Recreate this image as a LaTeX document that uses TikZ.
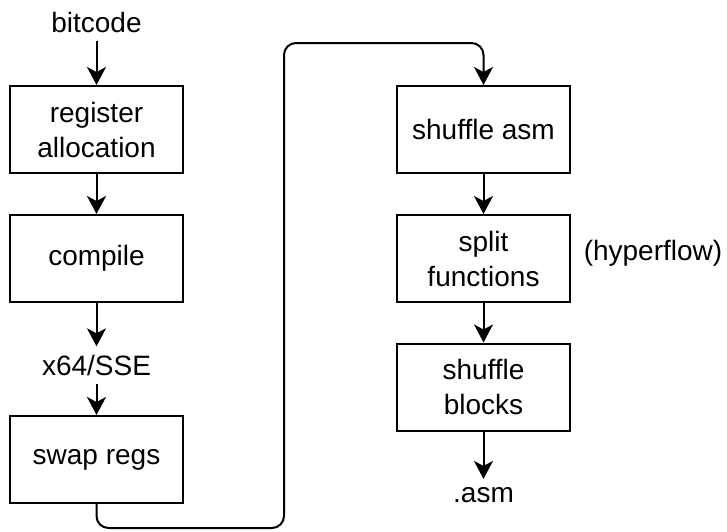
\documentclass[tikz,border=0pt]{standalone}
\usepackage{fontspec}
\setmainfont{Liberation Sans}
\usepackage{tikz}
\usetikzlibrary{arrows.meta}

\begin{document}
\begin{tikzpicture}[
    x=1pt, y=1pt,
    every node/.style={font=\fontsize{14}{17.5}\selectfont},
    stage/.style={rectangle, draw, line width=1pt, minimum width=86.5pt, minimum height=43.5pt, align=center},
    plain/.style={inner sep=4pt},
    flow/.style={-{Stealth[length=9pt, width=9.5pt, inset=2.5pt]}, line width=1pt}
]
\useasboundingbox (0,0) rectangle (363.5,-265.5);

% Left column
\node[plain] (bitcode) at (48.25,-11) {bitcode};
\node[stage] (regalloc) at (48.25,-64.75) {register\\allocation};
\node[stage] (compile) at (48.25,-129.25) {compile};
\node[plain] (x64) at (48.25,-182.5) {x64/SSE};
\node[stage] (swap) at (48.25,-229.75) {swap regs};

% Right column
\node[stage] (shufasm) at (241.75,-64.75) {shuffle asm};
\node[stage] (split) at (241.75,-129.25) {split\\functions};
\node[stage] (shufblocks) at (241.75,-193.5) {shuffle\\blocks};
\node[plain] (asm) at (241.75,-247.5) {.asm};
\node[plain] (hyper) at (326.5,-126.5) {(hyperflow)};

% Arrows
\draw[flow] (bitcode) -- (regalloc);
\draw[flow] (regalloc) -- (compile);
\draw[flow] (compile) -- (x64);
\draw[flow] (x64) -- (swap);
\draw[flow] (shufasm) -- (split);
\draw[flow] (split) -- (shufblocks);
\draw[flow] (shufblocks) -- (asm);

% Link between the columns
\coordinate (low) at (142,-264);
\coordinate (high) at (142,-21.5);
\draw[flow, rounded corners=6pt] (swap.south) |- (low) -- (high) -| (shufasm.north);

\end{tikzpicture}
\end{document}
